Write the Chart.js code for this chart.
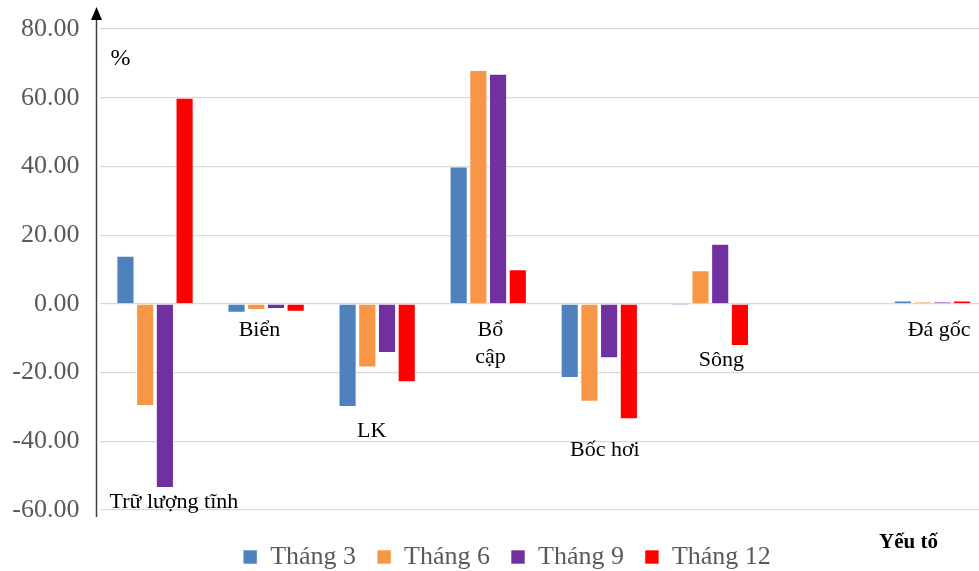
<!DOCTYPE html>
<html>
<head>
<meta charset="utf-8">
<script src="https://cdn.jsdelivr.net/npm/chart.js@4.4.1/dist/chart.umd.min.js"></script>
<style>
    html, body { margin: 0; padding: 0; background: #fff; overflow: hidden; }
    #wrap { width: 979px; height: 571px; overflow: hidden; position: relative; }
    #wrap canvas { position: absolute; left: 0; top: 0; }
</style>
</head>
<body>
<div id="wrap"><canvas id="chart" width="988" height="571"></canvas></div>
<script>
    // Data
    const categories = ['Trữ lượng tĩnh', 'Biển', 'LK', 'Bổ cập', 'Bốc hơi', 'Sông', '', 'Đá gốc'];
    const seriesNames = ['Tháng 3', 'Tháng 6', 'Tháng 9', 'Tháng 12'];
    const thang3 = [14.0, -2.6, -30.0, 40.0, -21.6, -0.5, null, 1.0];
    const thang6 = [-29.7, -1.8, -18.5, 68.1, -28.5, 9.8, null, 0.6];
    const thang9 = [-53.6, -1.5, -14.3, 67.0, -15.8, 17.5, null, 0.6];
    const thang12 = [60.0, -2.3, -22.8, 10.1, -33.6, -12.3, null, 1.0];
    const yTicks = [-60, -40, -20, 0, 20, 40, 60, 80];

    const colors = ['#4f81bd', '#f79646', '#7030a0', '#ff0000'];
    const serif = '"Liberation Serif", "Times New Roman", serif';

    // Where each category name sits inside the plot (x as fraction of a category, y in axis units)
    const nameLines = [['Trữ lượng tĩnh'], ['Biển'], ['LK'], ['Bổ', 'cập'], ['Bốc hơi'], ['Sông'], [], ['Đá gốc']];
    const nameDx = [0.17, -0.06, -0.05, 0.02, 0.05, 0.10, 0, 0.06];
    const nameY = [[-57.6], [-7.6], [-37.0], [-7.6, -15.4], [-42.5], [-16.3], [], [-7.6]];

    const LEGEND_HEIGHT = 61;   // space under the plot
    const LEGEND_SHIFT_Y = 13;  // push legend items down
    const LEGEND_SHIFT_X = 26;  // nudge legend to the right (half of it)

    const decorations = {
        id: 'decorations',
        beforeLayout(chart) {
            const legend = chart.legend;
            if (legend && !legend._patched) {
                const fit = legend.fit;
                legend.fit = function () {
                    fit.call(this);
                    this.height = LEGEND_HEIGHT;
                };
                legend._patched = true;
            }
        },
        afterLayout(chart) {
            const legend = chart.legend;
            if (legend) {
                legend.top += LEGEND_SHIFT_Y;
                legend.left += LEGEND_SHIFT_X;
            }
        },
        afterDraw(chart) {
            const { ctx, chartArea, scales } = chart;
            const x = scales.x, y = scales.y;
            ctx.save();

            // category names
            ctx.fillStyle = '#000';
            ctx.font = '22px ' + serif;
            ctx.textAlign = 'center';
            ctx.textBaseline = 'middle';
            nameLines.forEach((lines, i) => {
                const step = x.getPixelForValue(1) - x.getPixelForValue(0);
                const px = x.getPixelForValue(i) + nameDx[i] * step;
                lines.forEach((t, j) => ctx.fillText(t, px, y.getPixelForValue(nameY[i][j])));
            });

            // vertical axis with arrow
            const ax = Math.round(chartArea.left - 4) + 0.5;
            ctx.strokeStyle = '#404040';
            ctx.fillStyle = '#000';
            ctx.lineWidth = 1.5;
            ctx.beginPath();
            ctx.moveTo(ax, chartArea.bottom + 7);
            ctx.lineTo(ax, 16);
            ctx.stroke();
            ctx.beginPath();
            ctx.moveTo(ax, 7);
            ctx.lineTo(ax - 5.5, 20);
            ctx.lineTo(ax + 5.5, 20);
            ctx.closePath();
            ctx.fill();

            // unit and axis title
            ctx.font = '24px ' + serif;
            ctx.textAlign = 'left';
            ctx.fillText('%', chartArea.left + 11, chartArea.top + 30);
            ctx.font = 'bold 21px ' + serif;
            ctx.fillText('Yếu tố', 879, 543);
            ctx.restore();
        }
    };

    const datasets = [thang3, thang6, thang9, thang12].map((values, i) => ({
        label: seriesNames[i],
        data: values,
        backgroundColor: colors[i],
        borderColor: 'rgba(255,255,255,0.6)',
        borderWidth: 1,
        categoryPercentage: 0.71,
        barPercentage: 0.92
    }));

    new Chart(document.getElementById('chart'), {
        type: 'bar',
        data: { labels: categories, datasets },
        options: {
            responsive: false,
            animation: false,
            layout: { padding: { top: 29, right: 0, bottom: 0, left: 0 } },
            scales: {
                x: {
                    display: false
                },
                y: {
                    min: -60,
                    max: 80,
                    afterBuildTicks: (scale) => { scale.ticks = yTicks.map(v => ({ value: v })); },
                    afterFit: (scale) => {
                        scale.width = 99.5;
                        scale.paddingTop = 0;
                        scale.paddingBottom = 0;
                    },
                    border: { display: false },
                    grid: { color: '#d9d9d9', lineWidth: 1.2, drawTicks: false },
                    ticks: {
                        padding: 20,
                        color: '#595959',
                        font: { family: serif, size: 26 },
                        callback: (v) => v.toFixed(2)
                    }
                }
            },
            plugins: {
                legend: {
                    position: 'bottom',
                    labels: {
                        color: '#595959',
                        font: { family: serif, size: 26 },
                        boxWidth: 14,
                        boxHeight: 14,
                        padding: 21
                    }
                },
                tooltip: { enabled: false }
            }
        },
        plugins: [decorations]
    });
</script>
</body>
</html>
